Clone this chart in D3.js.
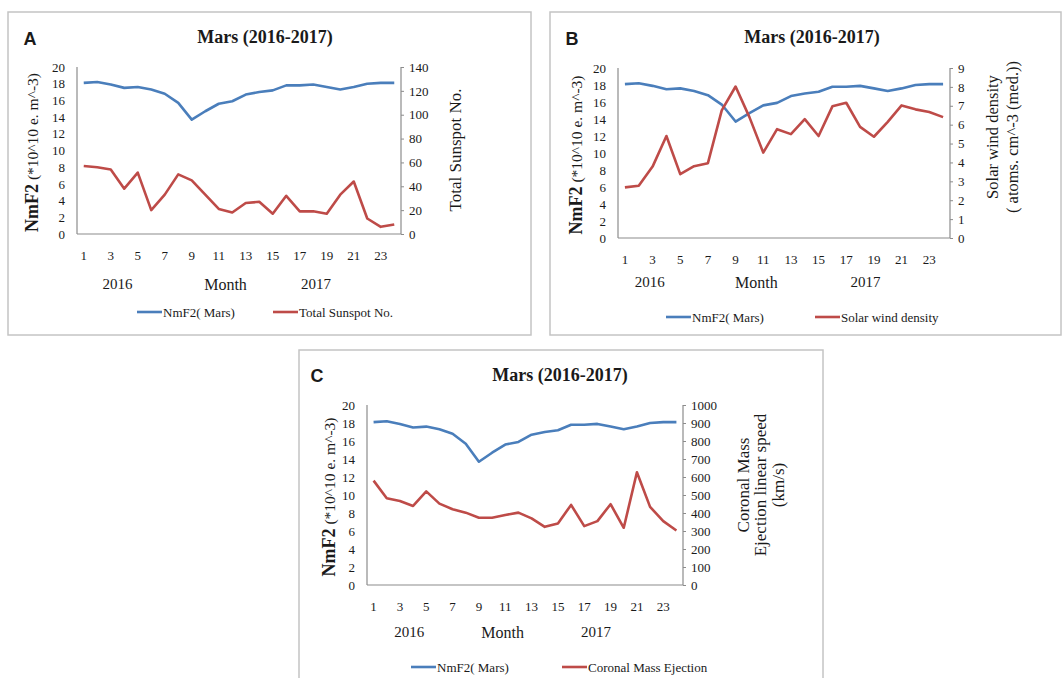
<!DOCTYPE html>
<html><head><meta charset="utf-8">
<script src="https://cdn.jsdelivr.net/npm/d3@7"></script>
<style>
html,body{margin:0;padding:0;background:#fff;}
svg{display:block;}
text{font-family:"Liberation Serif","Times New Roman",serif;fill:#1a1a1a;}
</style></head>
<body>
<svg id="chart" width="1064" height="678"></svg>
<script>
// ---------- data ----------
const months = [1,2,3,4,5,6,7,8,9,10,11,12,13,14,15,16,17,18,19,20,21,22,23,24];
const monthTickLabels = [1,3,5,7,9,11,13,15,17,19,21,23];
const nmf2Mars = [18.1,18.2,17.9,17.5,17.6,17.3,16.8,15.7,13.7,14.7,15.6,15.9,16.7,17.0,17.2,17.8,17.8,17.9,17.6,17.3,17.6,18.0,18.1,18.1];
const totalSunspotNo = [57,56,54,38,51.5,20,33,50,45,33,21,18,26,27,17,32,19,19,17,33,44,13,6,8];
const solarWindDensity = [2.68,2.77,3.78,5.4,3.38,3.8,3.96,6.76,8.02,6.4,4.52,5.76,5.5,6.29,5.4,6.97,7.16,5.88,5.36,6.15,7.02,6.81,6.67,6.4];
const coronalMassEjection = [580,482,467,439,520,452,421,402,374,374,389,402,370,323,342,445,327,355,449,318,626,434,355,303];
const leftTicks = [0,2,4,6,8,10,12,14,16,18,20];
const sunspotTicks = [0,20,40,60,80,100,120,140];
const windTicks = [0,1,2,3,4,5,6,7,8,9];
const cmeTicks = [0,100,200,300,400,500,600,700,800,900,1000];
const titleText = "Mars (2016-2017)";
const yearLabels = ["2016","Month","2017"];
const nmf2Legend = "NmF2( Mars)";

// ---------- layout ----------
const panels = [
  {letter:"A", box:[8,12,531,335], plot:[77,67,401,234], title:[265,37], letterPos:[30,39],
   right:totalSunspotNo, rightTicks:sunspotTicks, rightMax:140, legendRed:"Total Sunspot No.",
   rightLabel:["Total Sunspot No."], rightLabelX:[455], rightLabelY:150, rightFont:17,
   leftLabelX:33, yearPos:[3,11,17.7], yearY:284, legendY:312, legendBlue:137, legendRedX:273},
  {letter:"B", box:[550,12,1061,335], plot:[618,68,950,238], title:[812,37], letterPos:[572,39],
   right:solarWindDensity, rightTicks:windTicks, rightMax:9, legendRed:"Solar wind density",
   rightLabel:["Solar wind density","( atoms. cm^-3 (med.))"], rightLabelX:[992,1012], rightLabelY:137, rightFont:16.5,
   leftLabelX:577, yearPos:[2.3,10,17.9], yearY:282, legendY:317, legendBlue:666, legendRedX:815},
  {letter:"C", box:[299,350,823,700], plot:[367,405,683,585], title:[560,375], letterPos:[317,376],
   right:coronalMassEjection, rightTicks:cmeTicks, rightMax:1000, legendRed:"Coronal Mass Ejection",
   rightLabel:["Coronal Mass","Ejection linear speed","(km/s)"], rightLabelX:[743,760,778], rightLabelY:485, rightFont:17,
   leftLabelX:330, yearPos:[3.2,10.3,17.4], yearY:632, legendY:667, legendBlue:411, legendRedX:562}
];

const BLUE = "#4a7ebb", RED = "#be4b48", AXIS = "#8c8c8c";
const svg = d3.select("#chart");
svg.append("rect").attr("width",1064).attr("height",678).attr("fill","#fff");

panels.forEach(p => {
  const g = svg.append("g");
  const [bx0,by0,bx1,by1] = p.box;
  g.append("rect").attr("x",bx0).attr("y",by0).attr("width",bx1-bx0).attr("height",by1-by0)
    .attr("fill","#fff").attr("stroke","#c4c4c4").attr("stroke-width",1.5);

  g.append("text").attr("x",p.letterPos[0]).attr("y",p.letterPos[1]).attr("dy","0.35em")
    .attr("text-anchor","middle").style("font-family","'Liberation Sans',Arial,sans-serif")
    .style("font-weight","bold").style("font-size","18px").text(p.letter);
  g.append("text").attr("x",p.title[0]).attr("y",p.title[1]).attr("dy","0.35em")
    .attr("text-anchor","middle").style("font-weight","bold").style("font-size","18px").text(titleText);

  const [L,T,R,B] = p.plot;
  const x = d3.scaleBand().domain(months).range([L,R]).padding(0);
  const cx = m => x(m) + x.bandwidth()/2;
  const yL = d3.scaleLinear().domain([0,20]).range([B,T]);
  const yR = d3.scaleLinear().domain([0,p.rightMax]).range([B,T]);

  const ax = g.append("g").attr("transform",`translate(${L},0)`)
    .call(d3.axisLeft(yL).tickValues(leftTicks).tickSize(0).tickPadding(12).tickFormat(d3.format("d")));
  const bx = g.append("g").attr("transform",`translate(0,${B})`)
    .call(d3.axisBottom(x).tickValues(monthTickLabels).tickSize(0).tickPadding(17));
  const rx = g.append("g").attr("transform",`translate(${R},0)`)
    .call(d3.axisRight(yR).tickValues(p.rightTicks).tickSize(3).tickPadding(5).tickFormat(d3.format("d")));
  [ax,bx,rx].forEach(a => {
    a.select(".domain").attr("stroke",AXIS).attr("stroke-width",1.2);
    a.selectAll(".tick line").attr("stroke",AXIS);
    a.selectAll("text").style("font-family","'Liberation Serif',serif").style("font-size","13px").attr("fill","#222");
  });
  bx.select(".domain").attr("d",`M${L},0H${R}`);
  ax.select(".domain").attr("d",`M0,${B}V${T}`);
  rx.select(".domain").attr("d",`M0,${B}V${T}`);

  const lineL = d3.line().x((d,i)=>cx(months[i])).y(d=>yL(d));
  const lineR = d3.line().x((d,i)=>cx(months[i])).y(d=>yR(d));
  g.append("path").datum(nmf2Mars).attr("d",lineL).attr("fill","none").attr("stroke",BLUE)
    .attr("stroke-width",2.6).attr("stroke-linejoin","round");
  g.append("path").datum(p.right).attr("d",lineR).attr("fill","none").attr("stroke",RED)
    .attr("stroke-width",2.6).attr("stroke-linejoin","round");

  const ll = g.append("text").attr("transform",`translate(${p.leftLabelX},${(T+B)/2+2}) rotate(-90)`)
    .attr("dy","0.35em").attr("text-anchor","middle").style("font-size","15.5px");
  ll.append("tspan").style("font-size","18px").style("font-weight","bold").text("NmF2");
  ll.append("tspan").text(" (*10^10 e. m^-3)");

  p.rightLabel.forEach((t,i) => {
    g.append("text").attr("transform",`translate(${p.rightLabelX[i]},${p.rightLabelY}) rotate(-90)`)
      .attr("dy","0.35em").attr("text-anchor","middle").style("font-size",p.rightFont+"px").text(t);
  });

  yearLabels.forEach((t,i) => {
    g.append("text").attr("x", L + p.yearPos[i]*x.bandwidth()).attr("y",p.yearY).attr("dy","0.35em")
      .attr("text-anchor","middle").style("font-size", i===1 ? "16px":"15px").text(t);
  });

  g.append("line").attr("x1",p.legendBlue).attr("x2",p.legendBlue+25).attr("y1",p.legendY).attr("y2",p.legendY)
    .attr("stroke",BLUE).attr("stroke-width",2.6);
  g.append("text").attr("x",p.legendBlue+26).attr("y",p.legendY).attr("dy","0.35em").style("font-size","13px").text(nmf2Legend);
  g.append("line").attr("x1",p.legendRedX).attr("x2",p.legendRedX+25).attr("y1",p.legendY).attr("y2",p.legendY)
    .attr("stroke",RED).attr("stroke-width",2.6);
  g.append("text").attr("x",p.legendRedX+26).attr("y",p.legendY).attr("dy","0.35em").style("font-size","13px").text(p.legendRed);
});
</script>
</body></html>
